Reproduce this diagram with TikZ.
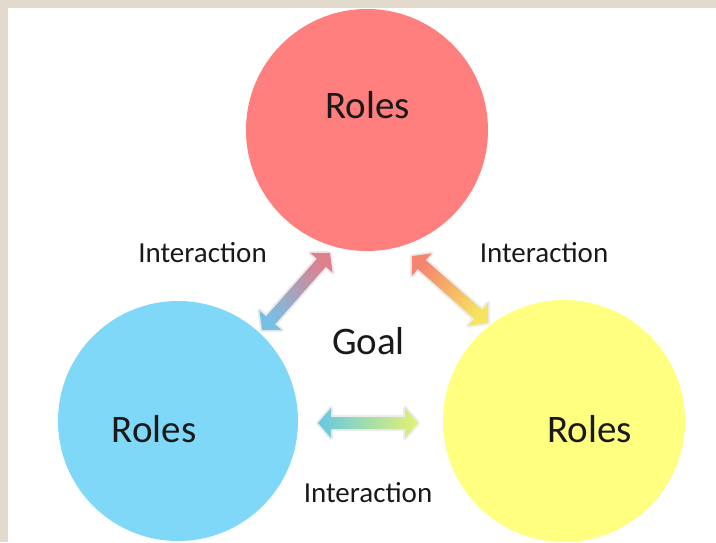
\documentclass[tikz,border=0pt]{standalone}
\usepackage{fontspec}
\setmainfont{Carlito}
\usetikzlibrary{calc}
\definecolor{bgbeige}{RGB}{227,218,206}
\definecolor{rolered}{RGB}{255,126,126}
\definecolor{roleblue}{RGB}{128,216,248}
\definecolor{roleyellow}{RGB}{255,255,128}
\definecolor{arblue}{RGB}{118,192,228}
\definecolor{arpink}{RGB}{222,128,142}
\definecolor{arsalmon}{RGB}{245,132,112}
\definecolor{aryellow}{RGB}{246,228,96}
\definecolor{arcyan}{RGB}{100,200,228}
\definecolor{arlime}{RGB}{228,242,112}
\definecolor{glow}{RGB}{236,236,236}
\newcommand\arrowpoly[1]{(0,0) -- (13,15) -- (13,6) -- (#1-13,6) -- (#1-13,15) -- (#1,0) -- (#1-13,-15) -- (#1-13,-6) -- (13,-6) -- (13,-15) -- cycle}
\begin{document}
\begin{tikzpicture}[x=1pt,y=1pt,
  rolecircle/.style={circle, inner sep=0pt, minimum size=#1, draw=none},
  bigtxt/.style={anchor=base, inner sep=0pt, text=black!90, font=\fontsize{39}{41}\selectfont},
  smalltxt/.style={anchor=base, inner sep=0pt, text=black!90, font=\fontsize{29}{31}\selectfont},
  arrowglow/.style={draw=glow, line width=4pt, line join=round}]
\fill[bgbeige] (0,0) rectangle (716,542);
\fill[white] (8,0) rectangle (716,534);
\useasboundingbox (0,0) rectangle (716,542);
% circles
\node[rolecircle=242pt, fill=rolered] (red) at (367,412) {};
\node[rolecircle=240pt, fill=roleblue] (blue) at (178,121) {};
\node[rolecircle=242pt, fill=roleyellow] (yellow) at (564,121) {};
% arrow tips
\coordinate (lA) at (262,212);
\coordinate (rA) at (412,286);
\coordinate (bA) at (318,119);
% left arrow (blue <-> red)
\begin{scope}[shift={(lA)}, rotate=48.55]
  \draw[arrowglow] \arrowpoly{102.7};
  \shade[top color=arpink, bottom color=arblue, shading angle=-41.45] \arrowpoly{102.7};
\end{scope}
% right arrow (red <-> yellow)
\begin{scope}[shift={(rA)}, rotate=-41.4]
  \draw[arrowglow] \arrowpoly{101.3};
  \shade[top color=arsalmon, bottom color=aryellow, shading angle=48.6] \arrowpoly{101.3};
\end{scope}
% bottom arrow (blue <-> yellow)
\begin{scope}[shift={(bA)}]
  \draw[arrowglow] \arrowpoly{100};
  \shade[left color=arcyan, right color=arlime] \arrowpoly{100};
\end{scope}
% texts
\node[bigtxt] (tred) at (367.5,423.5) {Roles};
\node[bigtxt] (tblue) at (154,99.5) {Roles};
\node[bigtxt] (tyellow) at (589.5,99.5) {Roles};
\node[bigtxt] (goal) at (368.5,187) {Goal};
\node[smalltxt] (il) at (202.5,279) {Interaction};
\node[smalltxt] (ir) at (544,279) {Interaction};
\node[smalltxt] (ib) at (368,40) {Interaction};
\end{tikzpicture}
\end{document}
